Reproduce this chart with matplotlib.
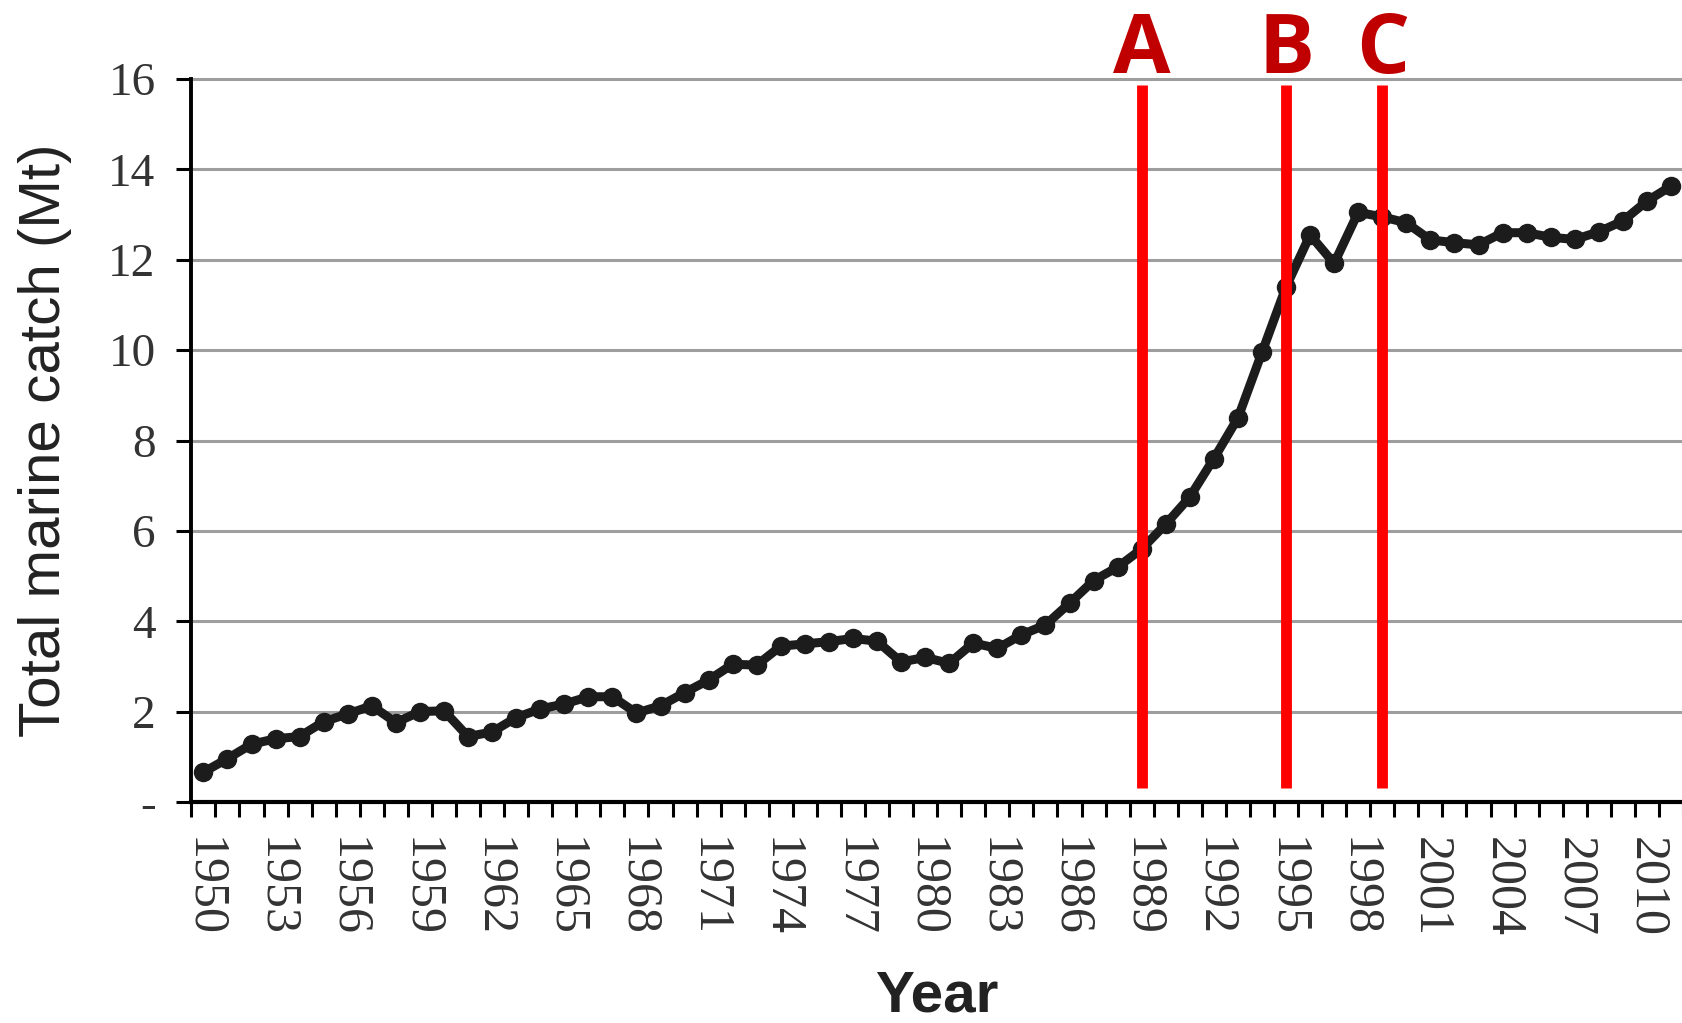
import numpy as np
import matplotlib
matplotlib.use("Agg")
import matplotlib.pyplot as plt
from matplotlib import transforms

# categories (one per year)
years = list(range(1950, 2012))

# total marine catch, Mt
catch = [0.66, 0.96, 1.28, 1.40, 1.45, 1.78, 1.95, 2.13, 1.76, 2.00,
         2.02, 1.45, 1.55, 1.87, 2.06, 2.17, 2.33, 2.33, 1.97, 2.13,
         2.42, 2.70, 3.05, 3.03, 3.45, 3.50, 3.55, 3.62, 3.56, 3.10,
         3.20, 3.07, 3.52, 3.40, 3.70, 3.92, 4.40, 4.90, 5.20, 5.60,
         6.15, 6.75, 7.60, 8.50, 9.95, 11.40, 12.55, 11.92, 13.05, 12.95,
         12.82, 12.44, 12.38, 12.33, 12.60, 12.60, 12.50, 12.45, 12.62, 12.86,
         13.30, 13.63]

label_years = list(range(1950, 2011, 3))
y_ticks = [0, 2, 4, 6, 8, 10, 12, 14, 16]
y_ticklabels = ["-", "2", "4", "6", "8", "10", "12", "14", "16"]

marker_years = [1989, 1995, 1999]
marker_names = ["A", "B", "C"]

fig = plt.figure(figsize=(16.83, 10.23), dpi=100)
ax = fig.add_axes([0.1137, 0.2160, 0.8863, 0.7067])

ax.plot(years, catch, color="#1c1c1c", lw=6.5, marker="o", ms=13,
        markeredgecolor="#1c1c1c", zorder=3)

ax.set_xlim(1949.5, 2011.5)
ax.set_ylim(0, 16)

# gridlines
for yv in y_ticks[1:]:
    ax.axhline(yv, color="#9e9e9e", lw=2.2, zorder=1, clip_on=False)

# red marker lines and letters
ax.vlines(marker_years, 0.3, 15.87, color="#ff0000", lw=7.8, zorder=4)
trans = transforms.blended_transform_factory(ax.transData, ax.transAxes)
for xv, name in zip(marker_years, marker_names):
    ax.text(xv, 1.009, name, transform=trans, ha="center", va="baseline",
            fontsize=60, fontweight="bold", color="#c00000",
            family="Open Sans", clip_on=False)

for s in ["top", "right"]:
    ax.spines[s].set_visible(False)
ax.spines["left"].set_linewidth(2.8)
ax.spines["bottom"].set_linewidth(3)

ax.set_xticks(label_years)
ax.set_xticklabels([str(y) for y in label_years], rotation=-90,
                   family="Liberation Serif", fontsize=36, color="#333333")
ax.set_xticks(np.arange(1949.5, 2012, 1), minor=True)
ax.tick_params(axis="x", which="major", length=0, pad=25)
ax.tick_params(axis="x", which="minor", length=10.8, width=2.2, color="black")

ax.set_yticks(y_ticks)
ax.set_yticklabels(y_ticklabels, family="Liberation Serif", fontsize=34,
                   color="#333333")
ax.tick_params(axis="y", length=10.8, width=2.2, pad=15)

fig.text(45 / 1683, 1 - 440 / 1023, "Total marine catch (Mt)", rotation=90,
         ha="center", va="center", fontsize=42, family="Liberation Sans",
         color="#222222")
fig.text(937 / 1683, 1 - 997 / 1023, "Year", ha="center", va="center",
         fontsize=42, fontweight="bold", family="Liberation Sans",
         color="#222222")

fig.savefig("out.png", dpi=100)
